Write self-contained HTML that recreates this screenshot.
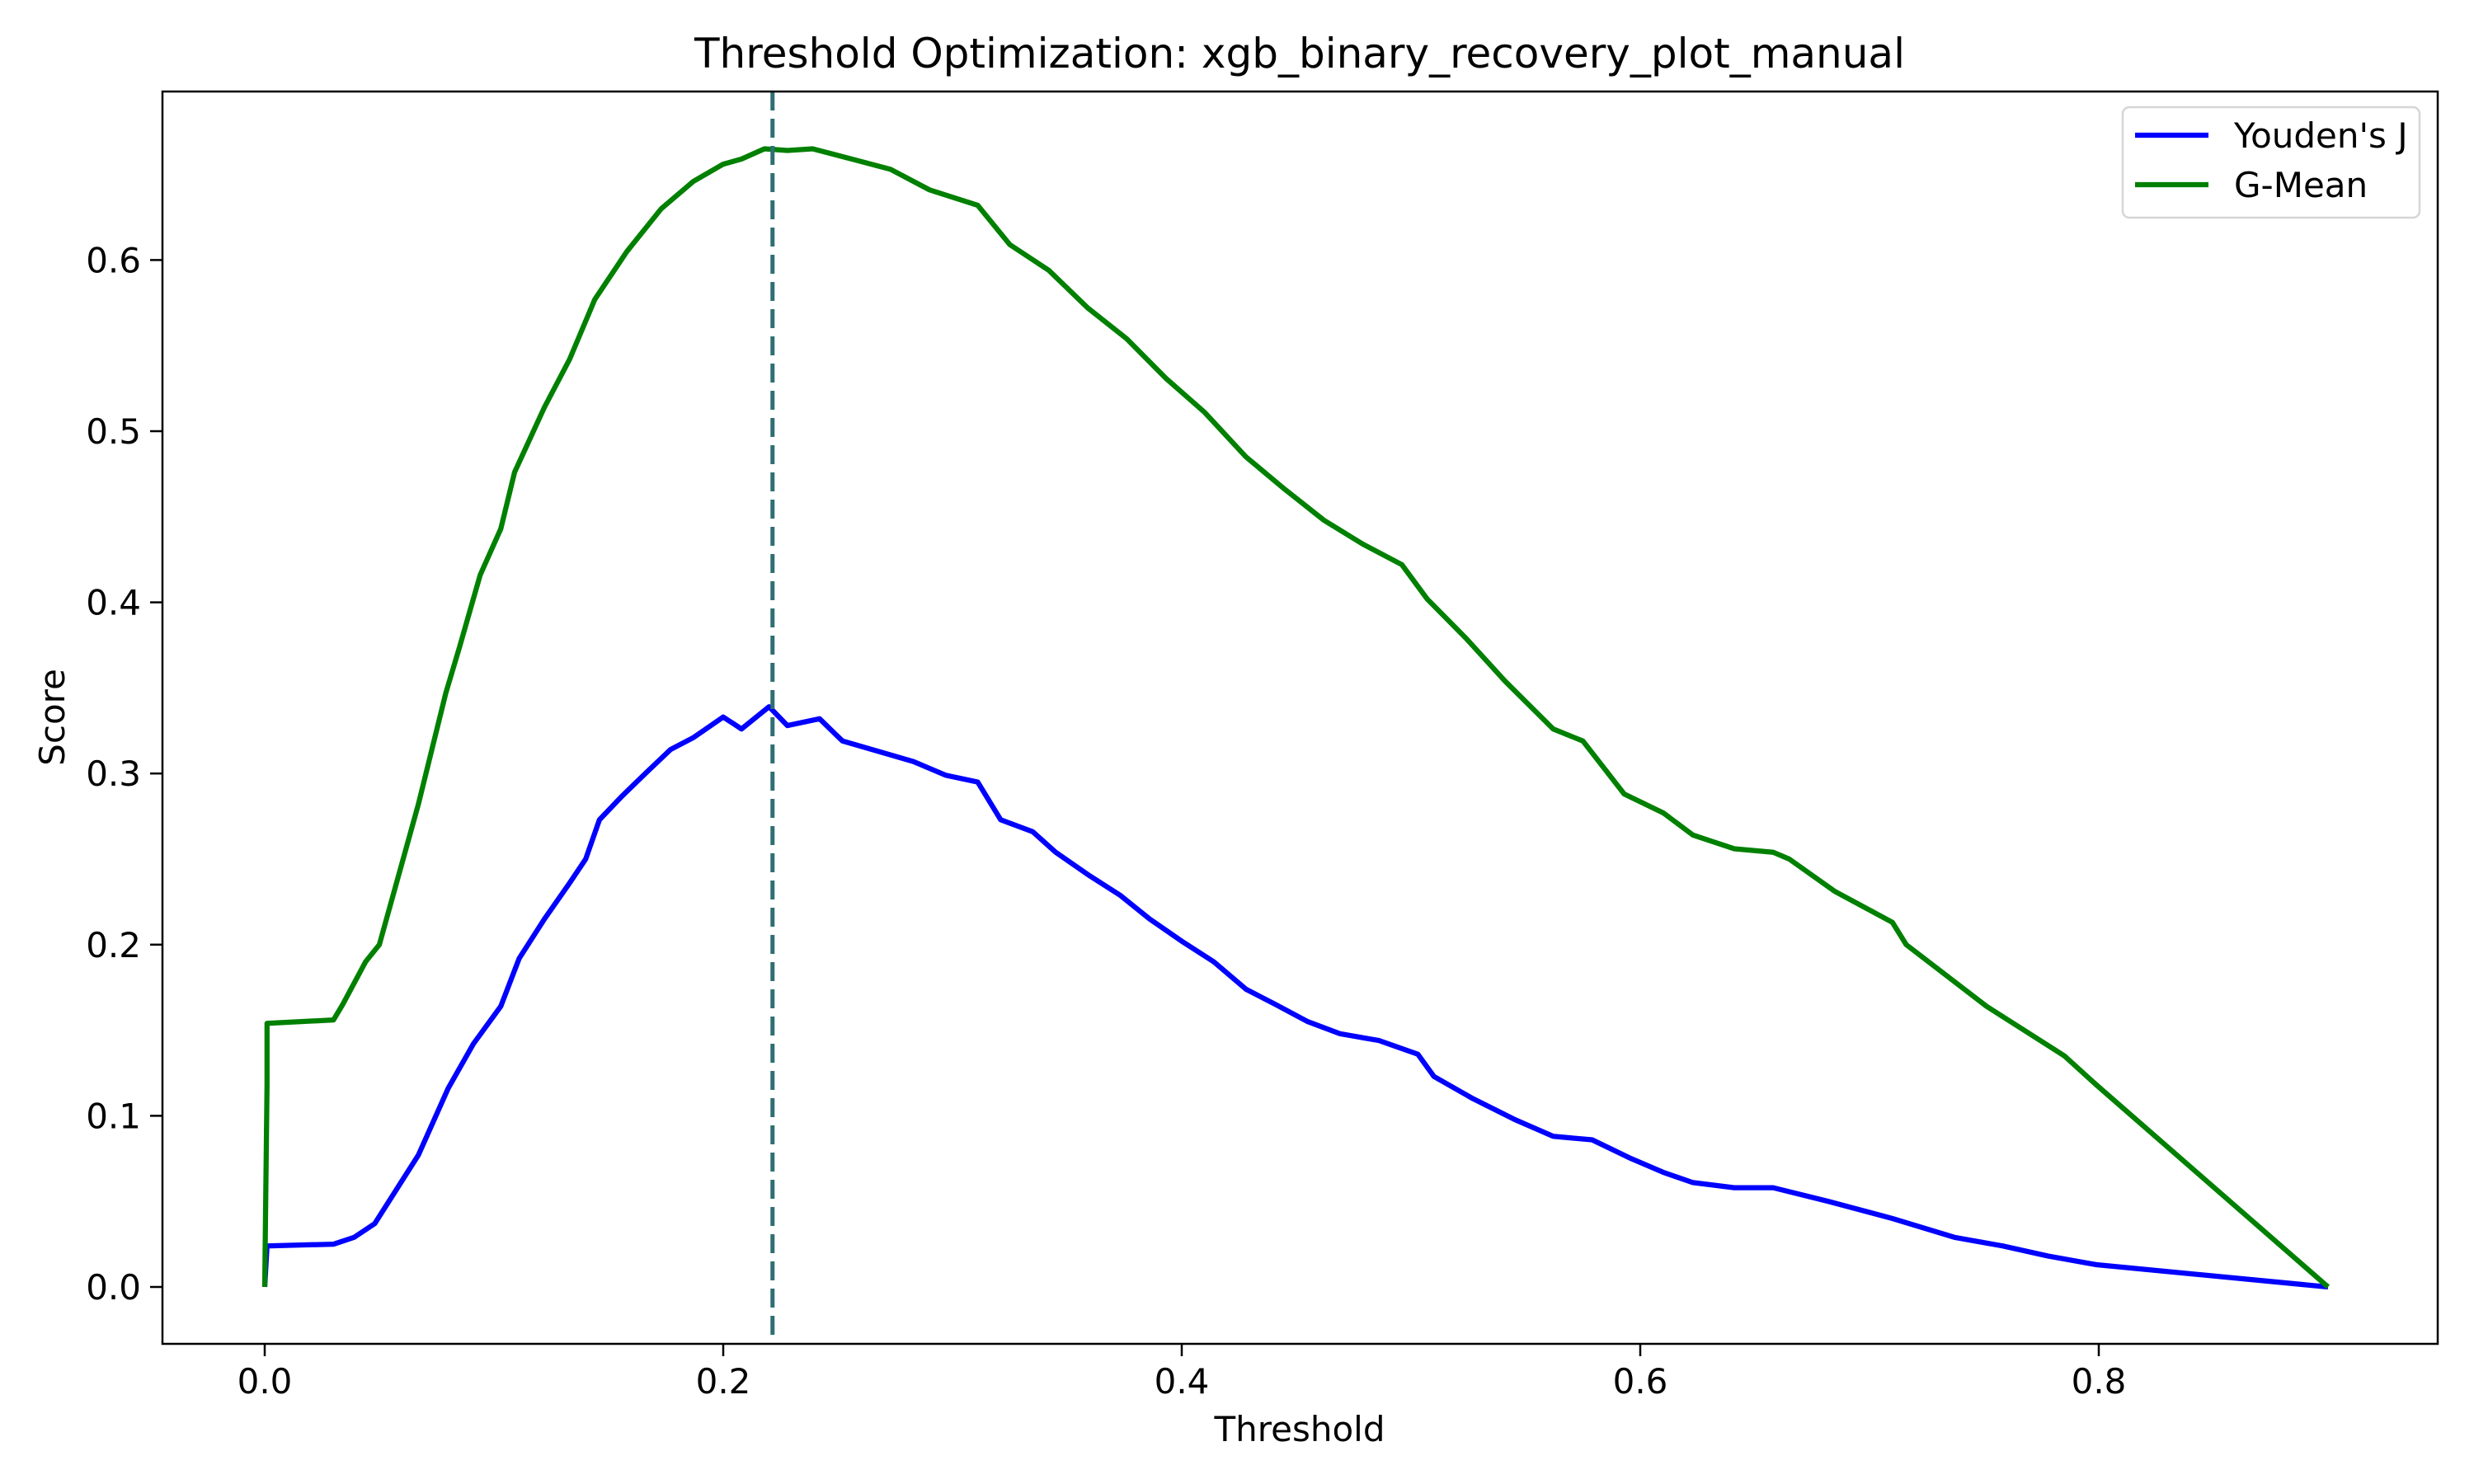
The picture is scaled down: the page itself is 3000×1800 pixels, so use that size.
<!DOCTYPE html>
<html><head><meta charset="utf-8"><style>
html,body{margin:0;padding:0;background:#fff;}
svg{display:block;font-family:"DejaVu Sans","Liberation Sans",sans-serif;}
</style></head><body>
<svg id="chart" width="3000" height="1800" viewBox="0 0 3000 1800">
<rect x="0" y="0" width="3000" height="1800" fill="#fff"/>
<text x="1576" y="82" font-size="50" text-anchor="middle">Threshold Optimization: xgb_binary_recovery_plot_manual</text>
<g id="plot"></g>
<text x="1576" y="1748" font-size="42" text-anchor="middle">Threshold</text>
<text transform="translate(78,870) rotate(-90)" font-size="42" text-anchor="middle">Score</text>
<g>
<rect x="2574" y="130" width="360" height="134" rx="8" fill="#fff" fill-opacity="0.8" stroke="#d6d6d6" stroke-width="2.5"/>
<line x1="2589" y1="164" x2="2678" y2="164" stroke="#0000ff" stroke-width="6.25"/>
<text x="2709" y="179" font-size="42">Youden's J</text>
<line x1="2589" y1="224" x2="2678" y2="224" stroke="#008000" stroke-width="6.25"/>
<text x="2709" y="239" font-size="42">G-Mean</text>
</g>
</svg>
<script>
const gmX=[0,0.001,0.001,0.03,0.034,0.044,0.05,0.067,0.079,0.085,0.094,0.103,0.109,0.122,0.133,0.144,0.158,0.173,0.187,0.2,0.208,0.218,0.228,0.239,0.256,0.273,0.29,0.311,0.325,0.342,0.359,0.376,0.393,0.41,0.428,0.445,0.462,0.479,0.496,0.507,0.524,0.541,0.562,0.575,0.593,0.61,0.623,0.641,0.658,0.665,0.685,0.71,0.716,0.751,0.785,0.799,0.9];
const gmY=[0,0.118,0.154,0.156,0.165,0.19,0.2,0.282,0.347,0.374,0.416,0.443,0.476,0.514,0.542,0.577,0.605,0.63,0.646,0.656,0.659,0.665,0.664,0.665,0.659,0.653,0.641,0.632,0.609,0.594,0.572,0.554,0.531,0.511,0.485,0.466,0.448,0.434,0.422,0.402,0.379,0.354,0.326,0.319,0.288,0.277,0.264,0.256,0.254,0.25,0.231,0.213,0.2,0.164,0.135,0.118,0];
const yjX=[0,0.001,0.03,0.039,0.048,0.067,0.08,0.091,0.103,0.111,0.122,0.133,0.14,0.146,0.156,0.166,0.177,0.187,0.2,0.208,0.22,0.228,0.242,0.252,0.27,0.283,0.297,0.311,0.321,0.335,0.345,0.359,0.373,0.386,0.4,0.414,0.428,0.441,0.455,0.469,0.486,0.503,0.51,0.527,0.545,0.562,0.579,0.596,0.61,0.623,0.641,0.658,0.682,0.71,0.737,0.758,0.778,0.799,0.9];
const yjY=[0,0.024,0.025,0.029,0.037,0.077,0.116,0.142,0.164,0.192,0.215,0.236,0.25,0.273,0.287,0.3,0.314,0.321,0.333,0.326,0.339,0.328,0.332,0.319,0.312,0.307,0.299,0.295,0.273,0.266,0.254,0.241,0.229,0.215,0.202,0.19,0.174,0.165,0.155,0.148,0.144,0.136,0.123,0.11,0.098,0.088,0.086,0.075,0.067,0.061,0.058,0.058,0.05,0.04,0.029,0.024,0.018,0.013,0];
const xTicks=[0,0.2,0.4,0.6,0.8];
const yTicks=[0,0.1,0.2,0.3,0.4,0.5,0.6];
const bestThreshold=[0.2215];

const L=197,R=2956,T=111,B=1630;
function sx(v){return 321+v*2780;}
function sy(v){return 1561-v*2076;}
const NS="http://www.w3.org/2000/svg";
const g=document.getElementById('plot');
function mk(t,a){const e=document.createElementNS(NS,t);for(const k in a)e.setAttribute(k,a[k]);g.appendChild(e);return e;}

xTicks.forEach(v=>{
  const t=mk('line',{x1:sx(v),y1:B,x2:sx(v),y2:B+15,stroke:'#000','stroke-width':2.5});
  
  
  const l=mk('text',{x:sx(v),y:B+60,'font-size':42,'text-anchor':'middle'});
  l.textContent=v.toFixed(1);
  
  
});
yTicks.forEach(v=>{
  const t=mk('line',{x1:L-15,y1:sy(v),x2:L,y2:sy(v),stroke:'#000','stroke-width':2.5});
  
  
  const l=mk('text',{x:L-26,y:sy(v)+15,'font-size':42,'text-anchor':'end'});
  l.textContent=v.toFixed(1);
  
  
});
function path(xs,ys){return xs.map((x,i)=>(i?'L':'M')+sx(x).toFixed(1)+','+sy(ys[i]).toFixed(1)).join(' ');}
const p1=mk('path',{d:path(yjX,yjY),fill:'none',stroke:'#0000ff','stroke-width':6.25,'stroke-linejoin':'round'});


const p2=mk('path',{d:path(gmX,gmY),fill:'none',stroke:'#008000','stroke-width':6.25,'stroke-linejoin':'round'});


const d=mk('line',{x1:sx(bestThreshold[0]),y1:T,x2:sx(bestThreshold[0]),y2:B,stroke:'#2f6f73','stroke-width':5,'stroke-dasharray':'23 10'});


const fr=mk('rect',{x:L,y:T,width:R-L,height:B-T,fill:'none',stroke:'#000','stroke-width':2.5});


</script>
</body></html>
